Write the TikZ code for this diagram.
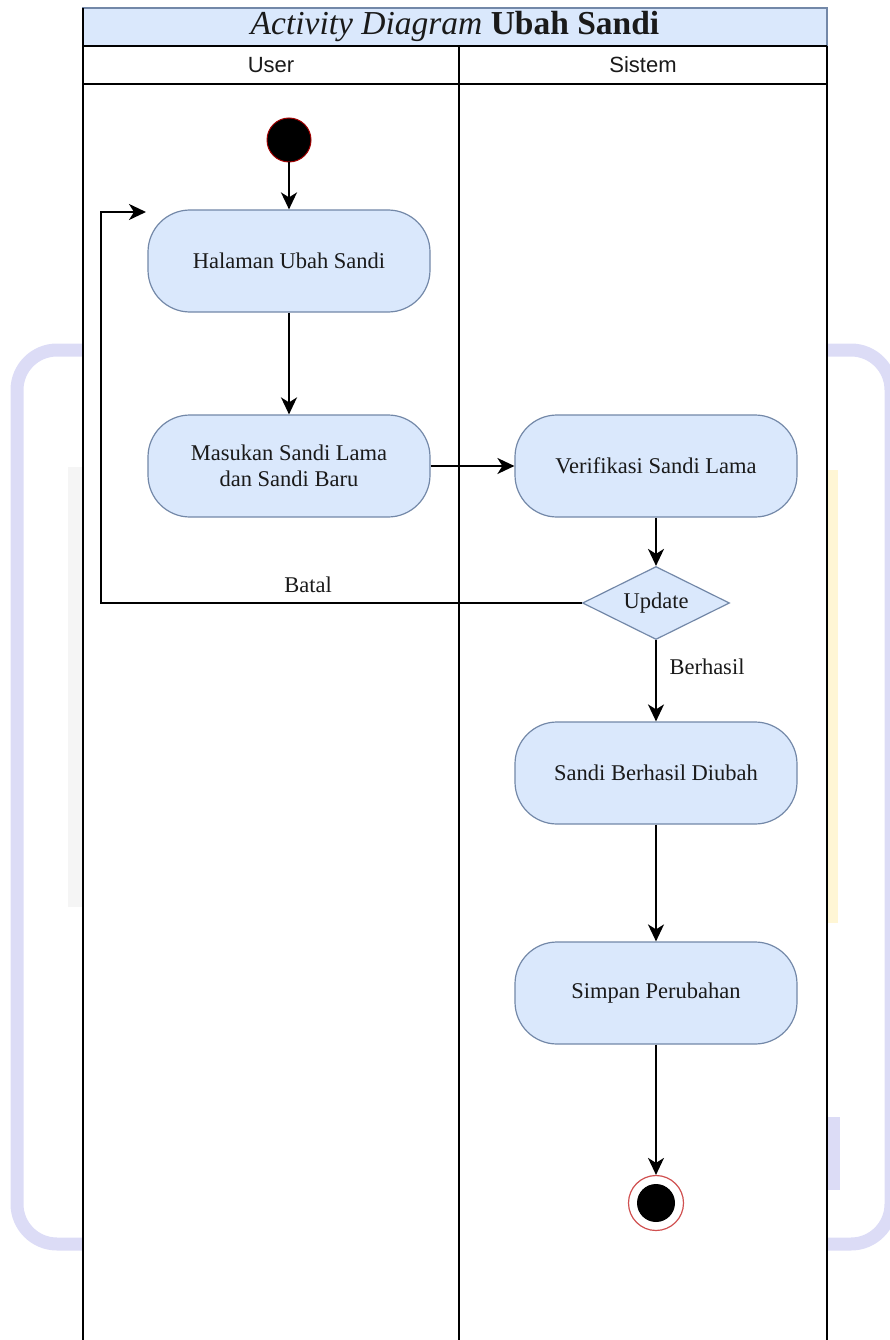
\documentclass[tikz,border=0pt]{standalone}
\usepackage{fontspec}
\setmainfont{Liberation Serif}
\setsansfont{Liberation Sans}
\usetikzlibrary{shapes.geometric,arrows.meta,calc}
\definecolor{nodefill}{HTML}{DAE8FC}
\definecolor{nodeline}{HTML}{7388A8}
\definecolor{wmlav}{HTML}{DCDCF6}
\definecolor{wmyel}{HTML}{FFF6D5}
\definecolor{wmgray}{HTML}{F5F5F5}
\definecolor{startred}{HTML}{A00000}
\definecolor{endred}{HTML}{D05050}
\definecolor{txt}{HTML}{1A1A1A}
\begin{document}
\begin{tikzpicture}[x=1pt,y=-1pt,
  act/.style={draw=nodeline, line width=1.2pt, fill=nodefill, rounded corners=42pt,
    minimum width=282pt, minimum height=102pt, align=center, text=txt,
    font=\fontsize{22.5}{26}\selectfont, inner sep=0pt},
  dec/.style={diamond, draw=nodeline, line width=1.2pt, fill=nodefill, aspect=2,
    minimum width=147pt, minimum height=73pt, inner sep=0pt, text=txt,
    font=\fontsize{22.5}{26}\selectfont},
  flow/.style={line width=2pt, draw=black, -{Stealth[length=17pt,width=16pt,inset=5pt]}},
  lbl/.style={text=txt, font=\fontsize{22.5}{26}\selectfont, inner sep=0pt},
  lane/.style={line width=2pt, draw=black},
  hdr/.style={font=\sffamily\fontsize{22}{25}\selectfont, text=txt, inner sep=0pt}
]
\useasboundingbox (0,0) rectangle (890,1340);
% watermark background
\draw[wmlav, line width=13pt, rounded corners=40pt] (17,350) rectangle (891,1244);
\fill[wmyel] (827,470) rectangle (838,923);
\fill[wmlav] (827,1117) rectangle (840,1190);
\fill[wmgray] (68,467) rectangle (83,907);
% pool
\fill[white] (83,8) rectangle (827,1345);
\draw[line width=1.2pt, draw=nodeline, fill=nodefill] (83,8) rectangle (827,46);
\node[inner sep=0pt, text=txt] (title) at (455,26)
  {\fontsize{33.5}{36}\selectfont\textit{Activity Diagram} \textbf{Ubah Sandi}};
\draw[lane] (83,46) -- (827,46);
\draw[lane] (83,84) -- (827,84);
\draw[lane] (83,8) -- (83,1345);
\draw[lane] (827,46) -- (827,1345);
\draw[lane] (459,46) -- (459,1345);
\node[hdr] (user) at (271,65) {User};
\node[hdr] (sistem) at (643,65) {Sistem};
% nodes
\node[circle, fill=black, draw=startred, line width=1pt, minimum size=44pt, inner sep=0pt] (start) at (289,140) {};
\node[act] (hal) at (289,261) {Halaman Ubah Sandi};
\node[act] (mas) at (289,466) {Masukan Sandi Lama\\dan Sandi Baru};
\node[act] (ver) at (656,466) {Verifikasi Sandi Lama};
\node[dec] (upd) at (656,603) {Update};
\node[act] (sbd) at (656,773) {Sandi Berhasil Diubah};
\node[act] (sim) at (656,993) {Simpan Perubahan};
\node[circle, fill=white, draw=endred, line width=1.2pt, minimum size=55pt, inner sep=0pt] (end) at (656,1203) {};
\node[circle, fill=black, minimum size=38pt, inner sep=0pt] (endin) at (end) {};
\node[lbl] (batal) at (308,585) {Batal};
\node[lbl] (berhasil) at (707,667) {Berhasil};
% connectors
\coordinate (lpT) at (101,212);
\coordinate (lpE) at (146,212);
\draw[flow] (start) -- (hal);
\draw[flow] (hal) -- (mas);
\draw[flow] (mas) -- (ver);
\draw[flow] (ver) -- (upd);
\draw[flow] (upd.west) -| (lpT) -- (lpE);
\draw[flow] (upd) -- (sbd);
\draw[flow] (sbd) -- (sim);
\draw[flow] (sim) -- (end);
\end{tikzpicture}
\end{document}
